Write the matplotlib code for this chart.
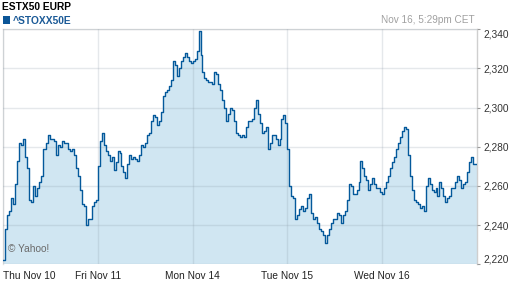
import matplotlib
matplotlib.use("Agg")
import matplotlib.pyplot as plt
from matplotlib.patches import Rectangle
import numpy as np

plt.rcParams['font.family'] = ['Liberation Sans', 'DejaVu Sans']

# ESTX50 EURP, intraday (48 samples per session)
thu = [2222, 2238, 2245, 2247, 2254, 2251, 2261, 2273, 2282, 2281, 2284, 2275,
       2269, 2253, 2252, 2260, 2255, 2259, 2262, 2265, 2279, 2279, 2282, 2286,
       2284, 2284, 2283, 2276, 2281, 2280, 2283, 2282, 2282, 2279, 2278, 2279,
       2276, 2269, 2265, 2258, 2251, 2250, 2240, 2243, 2243, 2250, 2252, 2253]
fri = [2270, 2283, 2287, 2281, 2278, 2276, 2273, 2275, 2268, 2272, 2278, 2277,
       2270, 2267, 2264, 2271, 2276, 2274, 2275, 2274, 2273, 2276, 2281, 2280,
       2282, 2286, 2287, 2293, 2296, 2295, 2291, 2293, 2298, 2306, 2308, 2309,
       2311, 2314, 2324, 2322, 2316, 2320, 2324, 2326, 2328, 2326, 2324, 2323]
mon = [2324, 2325, 2329, 2339, 2327, 2318, 2315, 2314, 2313, 2313, 2312, 2318,
       2317, 2312, 2309, 2304, 2300, 2293, 2297, 2300, 2299, 2293, 2287, 2286,
       2285, 2286, 2285, 2290, 2293, 2293, 2294, 2300, 2304, 2297, 2292, 2287,
       2288, 2290, 2279, 2282, 2286, 2286, 2284, 2281, 2284, 2294, 2296, 2292]
tue = [2279, 2260, 2255, 2254, 2243, 2245, 2248, 2250, 2247, 2249, 2254, 2256,
       2246, 2243, 2244, 2241, 2238, 2237, 2235, 2231, 2235, 2238, 2241, 2243,
       2243, 2246, 2245, 2241, 2245, 2247, 2253, 2261, 2260, 2256, 2256, 2258,
       2262, 2273, 2269, 2265, 2263, 2258, 2261, 2264, 2261, 2259, 2259, 2257]
wed = [2256, 2259, 2262, 2265, 2269, 2272, 2275, 2279, 2282, 2285, 2288, 2290,
       2289, 2276, 2265, 2258, 2253, 2252, 2251, 2249, 2250, 2247, 2260, 2264,
       2261, 2258, 2257, 2259, 2255, 2262, 2259, 2255, 2252, 2254, 2255, 2259,
       2259, 2262, 2265, 2263, 2259, 2261, 2262, 2267, 2272, 2275, 2271, 2271]

day_labels = ['Thu Nov 10', 'Fri Nov 11', 'Mon Nov 14', 'Tue Nov 15', 'Wed Nov 16']
y_ticks = [2220, 2240, 2260, 2280, 2300, 2320, 2340]

per_day = len(thu)
vals = np.concatenate([thu, fri, mon, tue, wed]).astype(float)
xs = np.arange(len(vals) + 1)
ys = np.append(vals, vals[-1])

fig = plt.figure(figsize=(5.12, 2.88), dpi=100)
ax = fig.add_axes([3 / 512, 1 - 264.3 / 288, 474 / 512, 235 / 288])

ax.fill_between(xs, ys, y_ticks[0], step='post', color='#d0e6f2', lw=0, zorder=1)
ax.step(xs, ys, where='post', color='#04599b', lw=1.0, zorder=3)

ax.set_xlim(0, len(vals))
ax.set_ylim(y_ticks[0], y_ticks[-1])

ax.set_xticks(np.arange(5) * per_day)
ax.set_xticklabels(day_labels, fontsize=7.3, color='#222222')
ax.get_xticklabels()[0].set_ha('left')
ax.tick_params(axis='x', length=0, pad=4.5)

ax.yaxis.tick_right()
ax.set_yticks(y_ticks)
ax.set_yticklabels(['{:,}'.format(v) for v in y_ticks], fontsize=7.3, color='#333333')
ax.tick_params(axis='y', length=2.5, width=0.8, color='#999999', pad=2)
ax.get_yticklabels()[0].set_va('bottom')
ax.get_yticklabels()[-1].set_va('top')

ax.grid(True, color='#8a9aa8', alpha=0.22, lw=1.0)
ax.set_axisbelow(False)
for g in ax.get_xgridlines() + ax.get_ygridlines():
    g.set_zorder(2)

ax.spines['bottom'].set_visible(False)
ax.spines['left'].set_color('#e2e2e2')
ax.spines['top'].set_color('#e2e2e2')
ax.spines['right'].set_color('#cfcfcf')
for s in ax.spines.values():
    s.set_linewidth(1.0)

ax.text(4.5 / 474, 0.045, '\u00a9 Yahoo!', transform=ax.transAxes,
        fontsize=7.3, color='#6a6a6a', ha='left', va='bottom', zorder=4)

# header
fig.text(1.7 / 512, 1 - 2.5 / 288, 'ESTX50 EURP', fontsize=7.4, fontweight='bold',
         color='#000000', ha='left', va='top')
fig.patches.append(Rectangle((2.5 / 512, 1 - 24 / 288), 7 / 512, 8 / 288,
                             transform=fig.transFigure, color='#0b5597', lw=0))
fig.text(13 / 512, 1 - 24.3 / 288, '^STOXX50E', fontsize=7.4, fontweight='bold',
         color='#1b5a97', ha='left', va='baseline')
fig.text(475 / 512, 1 - 23.3 / 288, 'Nov 16, 5:29pm CET', fontsize=7.2,
         color='#a0a0a0', ha='right', va='baseline')

fig.savefig('out.png', dpi=100)
